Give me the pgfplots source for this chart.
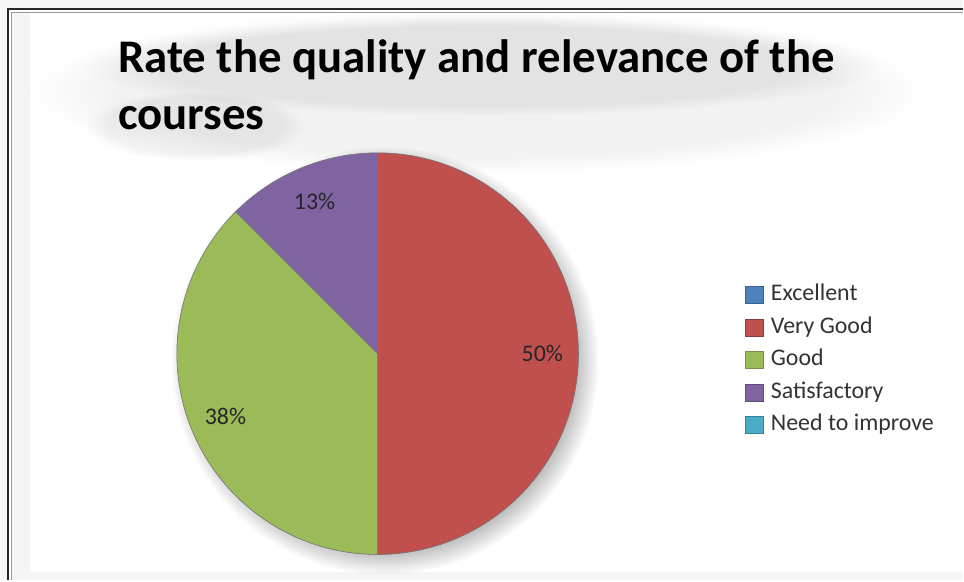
\documentclass[border=0pt]{standalone}
\usepackage{fontspec}
\setmainfont{Carlito}
\usepackage{pgfplots}
\usepackage{pgfplotstable}
\pgfplotsset{compat=1.18}
\usetikzlibrary{fadings}

% Office 2007 default series colours
\definecolor{slice0}{HTML}{4F81BD}
\definecolor{slice1}{HTML}{C0504D}
\definecolor{slice2}{HTML}{9BBB59}
\definecolor{slice3}{HTML}{8064A2}
\definecolor{slice4}{HTML}{4BACC6}

% responses per rating
\pgfplotstableread[col sep=comma,row sep=\\]{
label,count\\
Excellent,0\\
Very Good,4\\
Good,3\\
Satisfactory,1\\
Need to improve,0\\
}\ratingtable

\newcommand\labelfont{\fontsize{24}{28}\selectfont}
\def\cx{378}
\def\cy{227}
\def\rad{201}

\begin{document}
\begin{tikzpicture}
\def\total{0}
\pgfplotsforeachungrouped \i in {0,...,4}{%
  \pgfplotstablegetelem{\i}{count}\of\ratingtable
  \pgfmathsetmacro\total{\total+\pgfplotsretval}%
}
\begin{axis}[
    width=964bp, height=581bp, scale only axis,
    xmin=0, xmax=964, ymin=0, ymax=581,
    hide axis, clip=false,
    legend style={at={(axis cs:745,298)}, anchor=north west,
      draw=none, fill=none, inner sep=0pt, row sep=8.5bp,
      font=\labelfont, text=black!80,
      nodes={inner sep=1bp, text height=17bp, text depth=5bp},
      /tikz/every odd column/.append style={column sep=7bp}},
    legend cell align=left,
    legend image code/.code={\draw[#1] (0bp,-8.5bp) rectangle (18bp,8.5bp);},
  ]
  % background, frame and soft shadows
  \fill[white] (axis cs:0,0) rectangle (axis cs:964,581);
  \fill[black!3] (axis cs:0,572) rectangle (axis cs:964,581);
  \fill[black!3] (axis cs:0,0) rectangle (axis cs:8,581);
  \fill[black!4] (axis cs:12,0) rectangle (axis cs:30,568);
  \fill[black!4] (axis cs:12,0) rectangle (axis cs:964,8);
  \fill[black, opacity=0.05, path fading=circle with fuzzy edge 20 percent]
    (axis cs:478,490) ellipse[x radius=450, y radius=82];
  \fill[black, opacity=0.06, path fading=circle with fuzzy edge 20 percent]
    (axis cs:483,515) ellipse[x radius=400, y radius=50];
  \fill[black, opacity=0.05, path fading=circle with fuzzy edge 20 percent]
    (axis cs:195,455) ellipse[x radius=110, y radius=35];
  \fill[black, opacity=0.35, path fading=circle with fuzzy edge 15 percent]
    (axis cs:385,220) circle[radius=214];
  \draw[line width=1.8bp, black!85] (axis cs:8,0) -- (axis cs:8,572) -- (axis cs:964,572);
  \draw[line width=0.8bp, black!40] (axis cs:11,0) -- (axis cs:11,569) -- (axis cs:964,569);

  \node[anchor=base west, font=\bfseries\fontsize{47}{56}\selectfont, inner sep=0pt]
    at (axis cs:118,508) {Rate the quality and relevance of the};
  \node[anchor=base west, font=\bfseries\fontsize{47}{56}\selectfont, inner sep=0pt]
    at (axis cs:118,451) {courses};

  \def\cum{0}
  \pgfplotsforeachungrouped \i in {0,...,4}{%
    \pgfplotstablegetelem{\i}{count}\of\ratingtable \let\val\pgfplotsretval
    \pgfplotstablegetelem{\i}{label}\of\ratingtable \let\name\pgfplotsretval
    \pgfmathsetmacro\start{90-360*\cum/\total}%
    \pgfmathsetmacro\cum{\cum+\val}%
    \pgfmathsetmacro\stop{90-360*\cum/\total}%
    \pgfmathsetmacro\mid{(\start+\stop)/2}%
    \pgfmathsetmacro\xa{\cx+\rad*cos(\start)}%
    \pgfmathsetmacro\ya{\cy+\rad*sin(\start)}%
    \pgfmathsetmacro\xl{\cx+0.82*\rad*cos(\mid)}%
    \pgfmathsetmacro\yl{\cy+0.82*\rad*sin(\mid)}%
    \pgfmathtruncatemacro\pct{round(100*\val/\total)}%
    \ifnum\pct>0
      \edef\temp{\noexpand\fill[slice\i, draw=black!55, line width=0.6bp]
        (axis cs:\cx,\cy) -- (axis cs:\xa,\ya)
        arc[start angle=\start, end angle=\stop, radius=\rad] -- cycle;
        \noexpand\node[font=\noexpand\labelfont, text=black!85]
        at (axis cs:\xl,\yl) {\pct\noexpand\%};}%
      \temp
    \fi
    \edef\temp{\noexpand\addlegendimage{fill=slice\i, draw=slice\i!75!black}%
      \noexpand\addlegendentry{\name}}%
    \temp
  }
\end{axis}
\end{tikzpicture}
\end{document}
